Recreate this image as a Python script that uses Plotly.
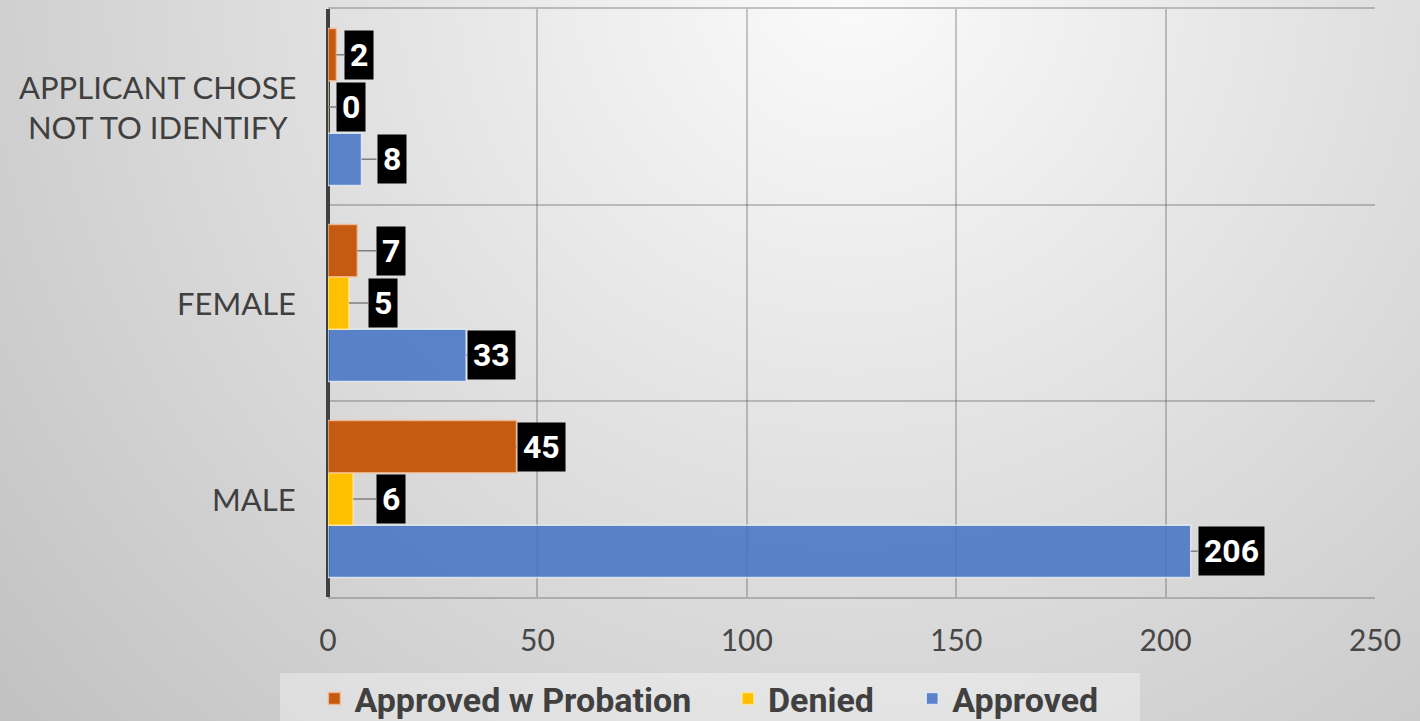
import base64
import plotly.graph_objects as go

# ---------------- data ----------------
categories = ["MALE", "FEMALE", "APPLICANT CHOSE<br>NOT TO IDENTIFY"]
series_names = ["Approved", "Denied", "Approved w Probation"]
approved = [206, 33, 8]
denied = [6, 5, 0]
approved_probation = [45, 7, 2]
x_ticks = [0, 50, 100, 150, 200, 250]

# ---------------- styles ----------------
series_values = [approved, denied, approved_probation]
colors = ["rgba(68,114,196,0.86)", "#FFC000", "#C55A11"]
outline = ["rgba(235,240,250,0.8)", "rgba(255,235,170,0.8)", "rgba(245,190,150,0.8)"]
# pixel gap between bar end and its label box (per series, per category)
label_gap = [[7, 1, 15], [23, 19, 8], [1, 19, 8]]
legend_ids = ["legend3", "legend2", "legend"]
legend_x = {"legend": -0.013, "legend2": 0.382, "legend3": 0.558}

W, H = 1420, 721
ML, MR, MT, MB = 328, 45, 9, 124
PW, PH = W - ML - MR, H - MT - MB

bargap = 0.2
bar_w = (1 - bargap) / len(series_names)

fig = go.Figure()
for s, (name, vals) in enumerate(zip(series_names, series_values)):
    fig.add_trace(go.Bar(
        y=categories, x=vals, name=name, orientation="h",
        marker=dict(color=colors[s], line=dict(color=outline[s], width=1.5)),
        hoverinfo="x+name", legend=legend_ids[s],
    ))

annotations = []
# category labels (centered multi-line, right of the axis)
for i, c in enumerate(categories):
    annotations.append(dict(
        x=-30 / PW, xref="paper", y=i, yref="y", text=c, showarrow=False,
        xanchor="right", yanchor="middle", align="center",
        font=dict(family="Lato", size=31, color="#404040"),
    ))

# data labels (black boxes with leader lines)
for s, vals in enumerate(series_values):
    offset = (s - (len(series_names) - 1) / 2) * bar_w
    for i, v in enumerate(vals):
        annotations.append(dict(
            x=v, y=i + offset, xref="x", yref="y",
            text=str(v), showarrow=True, arrowhead=0, arrowwidth=1.5,
            arrowcolor="#7f7f7f", standoff=0, startstandoff=0,
            ax=label_gap[s][i], ay=0, axref="pixel", ayref="pixel",
            xanchor="left", yanchor="middle",
            bgcolor="#000000", borderpad=5,
            font=dict(family="Roboto", size=32, color="#ffffff", weight="bold"),
        ))

# background: radial gray gradient + light legend band
svg = f'''<svg xmlns="http://www.w3.org/2000/svg" width="{W}" height="{H}">
<defs><radialGradient id="g" gradientUnits="userSpaceOnUse" cx="850" cy="-20" r="1150">
<stop offset="0" stop-color="#fbfbfb"/><stop offset="1" stop-color="#c0c0c0"/>
</radialGradient></defs>
<rect x="0" y="0" width="{W}" height="{H}" fill="url(#g)"/>
<rect x="280" y="673" width="860" height="60" fill="#ffffff" fill-opacity="0.35"/>
</svg>'''
src = "data:image/svg+xml;base64," + base64.b64encode(svg.encode()).decode()

legend_font = dict(family="Roboto", size=34, color="#404040", weight="bold")
legends = {
    lid: dict(orientation="h", x=lx, xanchor="left", y=(PH - 699 + MT) / PH,
              yanchor="middle", bgcolor="rgba(0,0,0,0)", font=legend_font)
    for lid, lx in legend_x.items()
}

fig.update_layout(
    width=W, height=H,
    margin=dict(l=ML, r=MR, t=MT, b=MB, autoexpand=False),
    barmode="group", bargap=bargap, bargroupgap=0,
    paper_bgcolor="#dcdcdc", plot_bgcolor="rgba(0,0,0,0)",
    images=[dict(source=src, xref="paper", yref="paper",
                 x=-ML / PW, y=1 + MT / PH, sizex=W / PW, sizey=H / PH,
                 xanchor="left", yanchor="top", sizing="stretch", layer="below")],
    annotations=annotations,
    showlegend=True,
    **legends,
    xaxis=dict(range=[0, 250], tickvals=x_ticks, ticks="", automargin=False,
               showgrid=True, gridcolor="rgba(60,60,60,0.28)", gridwidth=1.5,
               zeroline=True, zerolinecolor="#404040", zerolinewidth=4,
               showline=True, linecolor="rgba(60,60,60,0.28)", linewidth=1.5, mirror=True,
               ticklabelstandoff=16,
               tickfont=dict(family="Lato", size=30, color="#474747")),
    yaxis=dict(categoryorder="array", categoryarray=categories, automargin=False,
               tickson="boundaries", ticks="", showgrid=True,
               gridcolor="rgba(60,60,60,0.28)", gridwidth=1.5,
               showline=False, showticklabels=False),
)

fig.write_html("out.html", config={"displayModeBar": False},
               post_script="document.body.style.margin='0px';")
